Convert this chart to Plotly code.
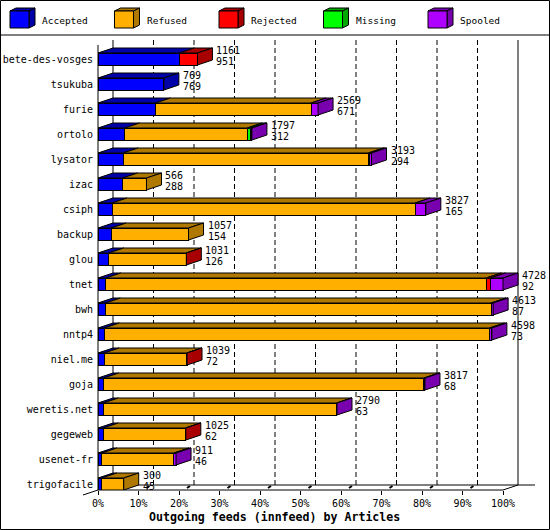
import plotly.graph_objects as go

# ---------------- data ----------------
hosts = ["bete-des-vosges", "tsukuba", "furie", "ortolo", "lysator", "izac",
         "csiph", "backup", "glou", "tnet", "bwh", "nntp4", "niel.me", "goja",
         "weretis.net", "gegeweb", "usenet-fr", "trigofacile"]
accepted = [951, 769, 671, 312, 294, 288, 165, 154, 126, 92, 87, 73, 72, 68, 63, 62, 46, 45]
refused = [0, 0, 1816, 1430, 2862, 278, 3536, 903, 902, 4440, 4501, 4497, 964, 3737, 2722, 960, 840, 255]
rejected = [210, 0, 0, 0, 15, 0, 0, 0, 3, 50, 0, 0, 3, 0, 0, 3, 0, 0]
missing = [0, 0, 0, 40, 0, 0, 0, 0, 0, 0, 0, 0, 0, 0, 0, 0, 0, 0]
spooled = [0, 0, 82, 15, 22, 0, 126, 0, 0, 146, 25, 28, 0, 12, 5, 0, 25, 0]

series_names = ["Accepted", "Refused", "Rejected", "Missing", "Spooled"]
series_values = [accepted, refused, rejected, missing, spooled]
face_colors = ["#0000FF", "#FFAF00", "#FF0000", "#00FF00", "#AF00FF"]
dark_colors = ["#0000A8", "#AF7800", "#A80000", "#00A800", "#7800AF"]
pct_ticks = [0, 10, 20, 30, 40, 50, 60, 70, 80, 90, 100]
x_title = "Outgoing feeds (innfeed) by Articles"

# ---------------- layout constants (pixels) ----------------
W, H = 550, 530
L, R, T, B = 98, 545, 38, 490      # plot area
FULL = 405                          # px for 100 %
ROW0, ROWH = 59, 25                 # first row centre, row pitch
DEPX, DEPY = 15, 5                  # 3D depth offset
FONT = "DejaVu Sans Mono"

n = len(hosts)
totals = [sum(v) for v in zip(*series_values)]
MAX = max(totals)
K = MAX / FULL                      # data units per px


def xd(px):
    return (px - L) * K


def yd(py):
    return (py - ROW0) / ROWH


def xp(px):
    return (px - L) / (R - L)


def yp(py):
    return (B - py) / (B - T)


DX = DEPX * K
DY = DEPY / ROWH
HALF = 6 / ROWH

fig = go.Figure()
idx = list(range(n))
for name, vals, col in zip(series_names, series_values, face_colors):
    fig.add_trace(go.Bar(
        y=idx, x=[v if v > 0 else None for v in vals], orientation="h",
        name=name, width=2 * HALF,
        marker=dict(color=col, line=dict(color="black", width=1)),
        showlegend=False, hoverinfo="skip"))

shapes = []
ann = []


def pline(x0, y0, x1, y1, dash="solid", layer="above", w=1):
    shapes.append(dict(type="line", xref="paper", yref="paper",
                       x0=xp(x0), y0=yp(y0), x1=xp(x1), y1=yp(y1),
                       line=dict(color="black", width=w, dash=dash), layer=layer))


# back wall / grid
back_top, back_bot = 40, 485
for p in pct_ticks:
    gx = L + FULL * p / 100 + DEPX
    if p in (0, 100):
        pline(gx, back_top, gx, back_bot, layer="below")
    else:
        pline(gx, back_top, gx, back_bot, dash="5px,3px", layer="below")
# floor lines
pline(L + DEPX, back_bot, 535, back_bot, layer="below")
pline(L, B, L + FULL, B)
pline(L + FULL, B, L + FULL + DEPX, back_bot)
pline(L, 45, L, B)
pline(L, B, L - DEPX, B + DEPY)
# 3D tick marks at the back
for p in pct_ticks[1:-1]:
    tx = L + FULL * p / 100
    pline(tx + 8, back_bot + 3, tx + 11, back_bot + 1, w=2)

# bar top and end faces
for i in range(n):
    yt = i - HALF
    yb = i + HALF
    s = 0
    last = None
    for vals, dc in zip(series_values, dark_colors):
        v = vals[i]
        if v <= 0:
            continue
        e = s + v
        shapes.append(dict(
            type="path", xref="x", yref="y",
            path=f"M{s},{yt} L{e},{yt} L{e+DX},{yt-DY} L{s+DX},{yt-DY} Z",
            fillcolor=dc, line=dict(color="black", width=1), layer="above"))
        last = (e, dc)
        s = e
    e, dc = last
    shapes.append(dict(
        type="path", xref="x", yref="y",
        path=f"M{e},{yt} L{e+DX},{yt-DY} L{e+DX},{yb-DY} L{e},{yb} Z",
        fillcolor=dc, line=dict(color="black", width=1), layer="above"))
    # value labels
    ann.append(dict(x=totals[i] + 17 * K, y=i - 9 / ROWH, xref="x", yref="y",
                    text=str(totals[i]), showarrow=False, xanchor="left",
                    yanchor="middle", font=dict(family=FONT, size=10, color="black")))
    ann.append(dict(x=totals[i] + 17 * K, y=i + 2.5 / ROWH, xref="x", yref="y",
                    text=str(accepted[i]), showarrow=False, xanchor="left",
                    yanchor="middle", font=dict(family=FONT, size=10, color="black")))

# legend (drawn)
leg_x0, leg_step = 10, 104.5
for j, (name, fc, dc) in enumerate(zip(series_names, face_colors, dark_colors)):
    x0 = leg_x0 + j * leg_step
    x1 = x0 + 19

    def P(a, b):
        return f"{xp(a)},{yp(b)}"
    shapes.append(dict(type="path", xref="paper", yref="paper",
                       path=f"M{P(x0,11)} L{P(x1,11)} L{P(x1+6,8)} L{P(x0+6,8)} Z",
                       fillcolor=dc, line=dict(color="black", width=1)))
    shapes.append(dict(type="path", xref="paper", yref="paper",
                       path=f"M{P(x1,11)} L{P(x1+6,8)} L{P(x1+6,25)} L{P(x1,28)} Z",
                       fillcolor=dc, line=dict(color="black", width=1)))
    shapes.append(dict(type="rect", xref="paper", yref="paper",
                       x0=xp(x0), x1=xp(x1), y0=yp(11), y1=yp(28),
                       fillcolor=fc, line=dict(color="black", width=1)))
    ann.append(dict(x=xp(x0 + 30), y=yp(20), xref="paper", yref="paper",
                    text=name, showarrow=False, xanchor="left", yanchor="middle",
                    font=dict(family=FONT, size=9.5, color="black")))

# outer frame + legend separator
shapes.append(dict(type="rect", xref="paper", yref="paper",
                   x0=xp(0.5), x1=xp(W - 0.5), y0=yp(0.5), y1=yp(H - 0.5),
                   line=dict(color="black", width=1), fillcolor="rgba(0,0,0,0)"))
pline(0, 35, W, 35)

ann.append(dict(x=xp(274), y=yp(517), xref="paper", yref="paper", text=f"<b>{x_title}</b>",
                showarrow=False, xanchor="center", yanchor="middle",
                font=dict(family=FONT, size=11.6, color="black")))

fig.update_layout(
    width=W, height=H, barmode="stack",
    margin=dict(l=L, r=W - R, t=T, b=H - B, pad=0, autoexpand=False),
    paper_bgcolor="white", plot_bgcolor="white",
    shapes=shapes, annotations=ann, showlegend=False,
    xaxis=dict(range=[0, xd(R)], tickvals=[MAX * p / 100 for p in pct_ticks],
               ticktext=[f"{p}%" for p in pct_ticks], ticks="outside", ticklen=4,
               tickcolor="black", showgrid=False, zeroline=False, showline=False,
               automargin=False,
               tickfont=dict(family=FONT, size=10, color="black"), fixedrange=True),
    yaxis=dict(range=[yd(B), yd(T)], tickvals=idx, ticktext=hosts, ticks="outside",
               ticklen=2, tickcolor="rgba(0,0,0,0)", automargin=False,
               showgrid=False, zeroline=False, showline=False,
               tickfont=dict(family=FONT, size=10, color="black"), fixedrange=True),
)

fig.write_html("out.html", config={"displayModeBar": False},
               post_script="document.body.style.margin='0';document.body.style.padding='0';")
